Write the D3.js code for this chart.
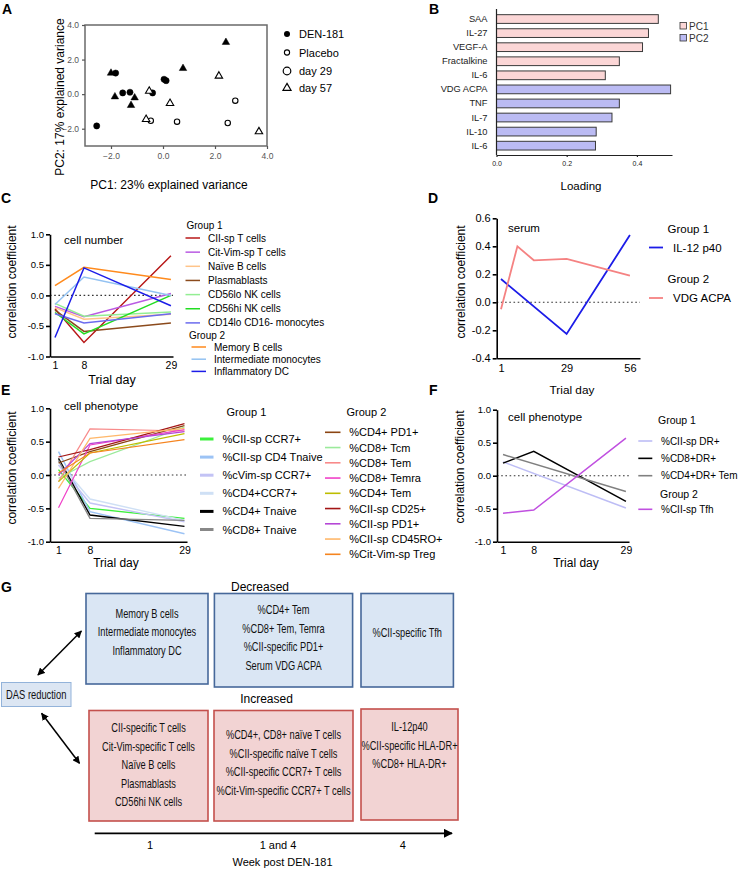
<!DOCTYPE html>
<html><head><meta charset="utf-8">
<script src="https://cdn.jsdelivr.net/npm/d3@7"></script>
<style>
body{margin:0;background:#fff}
svg{display:block;font-family:Arial,"Liberation Sans",sans-serif}
</style></head><body>
<svg id="fig" width="742" height="881"></svg>
<script>
// ---------------- DATA ----------------
// Panel A (PCA)
const pcaPC1 = [-2.55,-1.82,-1.55,-1.27,-0.40,0.04,0.12, -2.0,-1.85,-1.23,-1.09,0.77,2.42, -0.47,0.54,2.49,2.78, -0.65,-0.53,0.27,2.15,3.69];
const pcaPC2 = [-1.84,1.22,0.07,0.11,0.07,0.86,0.78, 1.22,-0.15,-0.65,-0.21,1.49,3.0, -1.54,-1.59,-1.67,-0.38, -1.46,0.18,-0.53,1.05,-2.17];
const pcaTreatment = ["DEN-181","DEN-181","DEN-181","DEN-181","DEN-181","DEN-181","DEN-181","DEN-181","DEN-181","DEN-181","DEN-181","DEN-181","DEN-181","Placebo","Placebo","Placebo","Placebo","Placebo","Placebo","Placebo","Placebo","Placebo"];
const pcaDay = [29,29,29,29,29,29,29,57,57,57,57,57,57,29,29,29,29,57,57,57,57,57];
const pcaXTicks = [-2,0,2,4];
const pcaYTicks = [-2,0,2,4];
const pcaLegend = ["DEN-181","Placebo","day 29","day 57"];

// Panel B (loadings)
const loadCategories = ["SAA","IL-27","VEGF-A","Fractalkine","IL-6","VDG ACPA","TNF","IL-7","IL-10","IL-6"];
const loadValues = [0.461,0.433,0.416,0.35,0.31,0.496,0.35,0.329,0.284,0.282];
const loadComponent = ["PC1","PC1","PC1","PC1","PC1","PC2","PC2","PC2","PC2","PC2"];
const loadTicks = [0,0.2,0.4];

// Panel C (cell number)
const cDays = [1,8,29];
const cNames = ["CII-sp T cells","Cit-Vim-sp T cells","Naïve B cells","Plasmablasts","CD56lo NK cells","CD56hi NK cells","CD14lo CD16- monocytes","Memory B cells","Intermediate monocytes","Inflammatory DC"];
const cGroup = [1,1,1,1,1,1,1,2,2,2];
const cValues = [[-0.22,-0.77,0.65],[-0.18,-0.35,0.03],[-0.2,-0.39,-0.31],[-0.24,-0.59,-0.45],[-0.13,-0.34,-0.27],[-0.28,-0.63,0.0],[-0.3,-0.45,-0.3],[0.16,0.46,0.26],[-0.15,0.30,0.0],[-0.69,0.45,-0.17]];
const cYTicks = [-1,-0.5,0,0.5,1];

// Panel D (serum)
const dNames = ["IL-12 p40","VDG ACPA"];
const dGroup = [1,2];
const dDays = [[1,29,56],[1,8,15,29,56]];
const dValues = [[0.166,-0.226,0.48],[-0.05,0.40,0.30,0.31,0.19]];
const dXTicks = [1,29,56];
const dYTicks = [-0.4,-0.2,0,0.2,0.4,0.6];

// Panel E (cell phenotype)
const eDays = [1,8,29];
const eNames = ["%CII-sp CCR7+","%CII-sp CD4 Tnaive","%cVim-sp CCR7+","%CD4+CCR7+","%CD4+ Tnaive","%CD8+ Tnaive",
  "%CD4+ PD1+","%CD8+ Tcm","%CD8+ Tem","%CD8+ Temra","%CD4+ Tem","%CII-sp CD25+","%CII-sp PD1+","%CII-sp CD45RO+","%Cit-Vim-sp Treg"];
const eGroup = [1,1,1,1,1,1,2,2,2,2,2,2,2,2,2];
const eValues = [[0.08,-0.50,-0.65],[0.35,-0.55,-0.88],[0.15,-0.42,-0.70],[0.20,-0.36,-0.68],[0.25,-0.60,-0.77],[0.22,-0.65,-0.68],
  [0.18,0.35,0.74],[-0.05,0.20,0.72],[-0.10,0.69,0.66],[-0.49,0.45,0.68],[-0.10,0.33,0.62],[0.27,0.38,0.77],[0.0,0.47,0.65],[-0.20,0.55,0.70],[0.03,0.33,0.53]];

// Panel F (cell phenotype)
const fNames = ["%CII-sp DR+","%CD8+DR+","%CD4+DR+ Tem","%CII-sp Tfh"];
const fGroup = [1,1,1,2];
const fDays = [[1,29],[1,8,29],[1,29],[1,8,29]];
const fValues = [[0.21,-0.49],[0.19,0.37,-0.39],[0.32,-0.24],[-0.57,-0.52,0.57]];
const trialTicks = [1,8,29];

// Panel G (summary)
const gDecreased = [["Memory B cells","Intermediate monocytes","Inflammatory DC"],["%CD4+ Tem","%CD8+ Tem, Temra","%CII-specific PD1+","Serum VDG ACPA"],["%CII-specific Tfh"]];
const gIncreased = [["CII-specific T cells","Cit-Vim-specific T cells","Naïve B cells","Plasmablasts","CD56hi NK cells"],["%CD4+, CD8+ naïve T cells","%CII-specific naïve T cells","%CII-specific CCR7+ T cells","%Cit-Vim-specific CCR7+ T cells"],["IL-12p40","%CII-specific HLA-DR+","%CD8+ HLA-DR+"]];
const gWeeks = ["1","1 and 4","4"];

// ---------------- STYLES ----------------
const cColors = ["#B81818","#B95BE3","#FFC48A","#8B4A1C","#93EE93","#22DD22","#6B6BEE","#FF8A1C","#93C2F2","#1C1CE8"];
const dColors = ["#1C1CE8","#F58282"];
const eColors = ["#3CF03C","#9CC3F5","#C3C3F5","#CFE0F5","#000000","#888888","#8B4513","#9BEA9B","#F88A8A","#F040C8","#BDBD00","#A31515","#B547D6","#FFB86B","#F5841F"];
const fColors = ["#BDBDF5","#000000","#808080","#C050E0"];
const FONT = "Arial, 'Liberation Sans', sans-serif";

const svg = d3.select("#fig");
svg.append("rect").attr("width",742).attr("height",881).attr("fill","#fff");

function txt(x,y,s,fs,opts={}){
  const t = svg.append("text").attr("x",x).attr("y",y).text(s)
    .attr("font-size",fs).attr("font-family",FONT)
    .attr("dominant-baseline","central").attr("fill",opts.fill||"#000")
    .attr("text-anchor",opts.anchor||"start");
  if(opts.bold) t.attr("font-weight","bold");
  return t;
}
// condensed text (mimics a narrow face by horizontal scaling)
function ntxt(x,y,s,fs,sx){
  return svg.append("text").attr("transform",`translate(${x},${y}) scale(${sx},1)`).text(s)
    .attr("font-size",fs).attr("font-family",FONT).attr("text-anchor","middle")
    .attr("dominant-baseline","central").attr("fill","#111");
}
function vtxt(x,y,s,fs,fill){
  return svg.append("text").attr("transform",`translate(${x},${y}) rotate(-90)`).text(s)
    .attr("font-size",fs).attr("font-family",FONT).attr("text-anchor","middle")
    .attr("dominant-baseline","central").attr("fill",fill||"#000");
}
function styleAxis(g,fs,color,w){
  g.attr("font-family",FONT).attr("font-size",fs);
  g.selectAll("path.domain").attr("stroke",color).attr("stroke-width",w);
  g.selectAll(".tick line").attr("stroke",color).attr("stroke-width",w);
  g.selectAll(".tick text").attr("fill",color);
}
// panel labels
[["A",2,9],["B",429,9],["C",1,198],["D",428,198],["E",1,390],["F",429,390],["G",1,587]].forEach(p=>txt(p[1],p[2],p[0],14,{bold:true}));

// ---------------- PANEL A ----------------
{
  const x = d3.scaleLinear([-3,4],[85,267]);
  const y = d3.scaleLinear([-3,4],[146,25]);
  svg.append("rect").attr("x",85).attr("y",25).attr("width",182).attr("height",121)
    .attr("fill","none").attr("stroke","#6a6a6a").attr("stroke-width",1.5);
  const xa = svg.append("g").attr("transform","translate(0,146)")
    .call(d3.axisBottom(x).tickValues(pcaXTicks).tickSize(3).tickPadding(4).tickSizeOuter(0));
  styleAxis(xa,8.5,"#555",1.2);
  const ya = svg.append("g").attr("transform","translate(85,0)")
    .call(d3.axisLeft(y).tickValues(pcaYTicks).tickSize(3).tickPadding(3).tickSizeOuter(0));
  styleAxis(ya,8.5,"#555",1.2);
  xa.select("path.domain").remove(); ya.select("path.domain").remove();
  const tri = d3.symbol(d3.symbolTriangle,24);
  pcaPC1.forEach((v,i)=>{
    const filled = pcaTreatment[i]==="DEN-181";
    if(pcaDay[i]===29){
      svg.append("circle").attr("cx",x(v)).attr("cy",y(pcaPC2[i])).attr("r",filled?3.1:2.7)
        .attr("fill",filled?"#000":"#fff").attr("stroke","#000").attr("stroke-width",filled?0.5:1.1);
    } else {
      svg.append("path").attr("d",tri()).attr("transform",`translate(${x(v)},${y(pcaPC2[i])})`)
        .attr("fill",filled?"#000":"#fff").attr("stroke","#000").attr("stroke-width",filled?0.5:1.1);
    }
  });
  vtxt(60,97,"PC2: 17% explained variance",12);
  txt(169,185,"PC1: 23% explained variance",12,{anchor:"middle"});
  // legend
  const ly = [34,52.5,71,88];
  pcaLegend.forEach((s,i)=>{
    const cx=287, cy=ly[i];
    if(i===0) svg.append("circle").attr("cx",cx).attr("cy",cy).attr("r",3).attr("fill","#000");
    else if(i===1) svg.append("circle").attr("cx",cx).attr("cy",cy).attr("r",2.6).attr("fill","#fff").attr("stroke","#000").attr("stroke-width",1.1);
    else if(i===2) svg.append("circle").attr("cx",cx).attr("cy",cy).attr("r",3.8).attr("fill","#fff").attr("stroke","#000").attr("stroke-width",1.2);
    else svg.append("path").attr("d",d3.symbol(d3.symbolTriangle,28)()).attr("transform",`translate(${cx},${cy})`).attr("fill","#fff").attr("stroke","#000").attr("stroke-width",1.2);
    txt(299,cy,s,11);
  });
}

// ---------------- PANEL B ----------------
{
  const x = d3.scaleLinear([0,0.5],[496.5,672]);
  const y = d3.scaleBand().domain(d3.range(loadCategories.length)).range([12,152.7]).paddingInner(0.38).paddingOuter(0.19);
  const fillC = {PC1:"#FBD6D6",PC2:"#BBBBF3"};
  loadValues.forEach((v,i)=>{
    svg.append("rect").attr("x",x(0)).attr("y",y(i)).attr("width",x(v)-x(0)).attr("height",y.bandwidth())
      .attr("fill",fillC[loadComponent[i]]).attr("stroke","#3a3a3a").attr("stroke-width",1);
  });
  const ya = svg.append("g").attr("transform",`translate(${x(0)},0)`)
    .call(d3.axisLeft(y).tickFormat(i=>loadCategories[i]).tickSize(0).tickPadding(9));
  styleAxis(ya,9.3,"#222",1.2);
  ya.select("path.domain").remove();
  svg.append("line").attr("x1",x(0)).attr("x2",x(0)).attr("y1",9).attr("y2",155).attr("stroke","#222").attr("stroke-width",1.2);
  const xa = svg.append("g").attr("transform","translate(0,155)")
    .call(d3.axisBottom(x).tickValues(loadTicks).tickFormat(d3.format(".1f")).tickSize(2).tickPadding(4).tickSizeOuter(0));
  styleAxis(xa,7,"#222",1.2);
  txt(581,186,"Loading",11.5,{anchor:"middle"});
  ["PC1","PC2"].forEach((s,i)=>{
    svg.append("rect").attr("x",680).attr("y",22.5+i*12).attr("width",6.5).attr("height",6.5)
      .attr("fill",fillC[s]).attr("stroke","#333").attr("stroke-width",0.8);
    txt(689,26+i*12,s,10,{fill:"#333"});
  });
}

// ---------------- line panel helper ----------------
function linePanel(o){
  const x=o.x, y=o.y;
  svg.append("line").attr("x1",x.range()[0]).attr("x2",x.range()[1]).attr("y1",y(0)).attr("y2",y(0))
    .attr("stroke","#333").attr("stroke-width",1.1).attr("stroke-dasharray","1.6,2.6");
  const lg = d3.line().x(d=>x(d[0])).y(d=>y(d[1]));
  o.series.forEach(s=>{
    svg.append("path").attr("d",lg(d3.zip(s.days,s.vals))).attr("fill","none")
      .attr("stroke",s.color).attr("stroke-width",s.width).attr("stroke-linejoin","miter");
  });
  const ya = svg.append("g").attr("transform",`translate(${x.range()[0]},0)`)
    .call(d3.axisLeft(y).tickValues(o.yTicks).tickFormat(d=>d.toFixed(1)).tickSize(4).tickPadding(2).tickSizeOuter(0));
  styleAxis(ya,o.yFs,"#000",1.6);
  const xa = svg.append("g").attr("transform",`translate(0,${y.range()[0]})`)
    .call(d3.axisBottom(x).tickValues(o.xTicks).tickFormat(d=>d).tickSize(0).tickPadding(o.xPad).tickSizeOuter(0));
  styleAxis(xa,o.xFs,"#000",1.6);
}
function legendLine(x1,x2,y,color,w){
  svg.append("line").attr("x1",x1).attr("x2",x2).attr("y1",y).attr("y2",y).attr("stroke",color).attr("stroke-width",w);
}

// ---------------- PANEL C ----------------
{
  const x = d3.scaleLinear([-0.2,29.5],[50,173]);
  const y = d3.scaleLinear([-1,1],[356.5,234.3]);
  linePanel({x,y,xTicks:trialTicks,yTicks:cYTicks,yFs:9.5,xFs:10.5,xPad:5,
    series:cValues.map((v,i)=>({days:cDays,vals:v,color:cColors[i],width:1.5}))});
  vtxt(12,282,"correlation coefficient",12);
  txt(112,380,"Trial day",12.5,{anchor:"middle"});
  txt(64,240,"cell number",11.5);
  txt(186.5,225,"Group 1",10);
  let yy = 238;
  cNames.forEach((s,i)=>{
    if(cGroup[i]===2 && cGroup[i-1]===1){ txt(189,335,"Group 2",10); yy = 347; }
    const off = cGroup[i]===1?0:6;
    legendLine(185.5+off,200+off,yy,cColors[i],1.5);
    txt(208+off,yy,s,10);
    yy += cGroup[i]===1?14.15:12.2;
  });
}

// ---------------- PANEL D ----------------
{
  const x = d3.scaleLinear([-0.83,60.3],[496.7,640]);
  const y = d3.scaleLinear([-0.4,0.6],[358.3,218.3]);
  linePanel({x,y,xTicks:dXTicks,yTicks:dYTicks,yFs:11,xFs:11,xPad:6,
    series:dValues.map((v,i)=>({days:dDays[i],vals:v,color:dColors[i],width:1.8}))});
  vtxt(461,282,"correlation coefficient",12);
  txt(572,390,"Trial day",11.8,{anchor:"middle"});
  txt(508,228,"serum",11.5);
  dNames.forEach((s,i)=>{
    const gy = 228.5 + i*50.5;
    txt(667.5,gy,"Group "+dGroup[i],11.5);
    legendLine(649,663,gy+19,dColors[i],1.8);
    txt(673,gy+19,s,11.5);
  });
}

// ---------------- PANEL E ----------------
{
  const x = d3.scaleLinear([-0.89,29.56],[50,187]);
  const y = d3.scaleLinear([-1,1],[541.7,408.3]);
  linePanel({x,y,xTicks:trialTicks,yTicks:cYTicks,yFs:9.5,xFs:10.5,xPad:5,
    series:eValues.map((v,i)=>({days:eDays,vals:v,color:eColors[i],width:eGroup[i]===1?1.4:1.2}))});
  vtxt(12,468,"correlation coefficient",12);
  txt(116,563,"Trial day",12,{anchor:"middle"});
  txt(64,406,"cell phenotype",11.5);
  txt(226.5,411.7,"Group 1",11);
  txt(346.5,411.7,"Group 2",11);
  let k1=0,k2=0;
  eNames.forEach((s,i)=>{
    if(eGroup[i]===1){
      const yy = 439 + k1*18.1; k1++;
      legendLine(200,213.5,yy,eColors[i],3);
      txt(222.5,yy,s,11);
    } else {
      const yy = 432.3 + k2*15.25; k2++;
      legendLine(325,340.5,yy,eColors[i],1.6);
      txt(349.3,yy,s,11);
    }
  });
}

// ---------------- PANEL F ----------------
{
  const x = d3.scaleLinear([-0.37,29.7],[497,629]);
  const y = d3.scaleLinear([-1,1],[541.7,409.7]);
  linePanel({x,y,xTicks:trialTicks,yTicks:cYTicks,yFs:9.5,xFs:10.5,xPad:5,
    series:fValues.map((v,i)=>({days:fDays[i],vals:v,color:fColors[i],width:1.5}))});
  vtxt(460,467,"correlation coefficient",12);
  txt(576,563,"Trial day",12,{anchor:"middle"});
  txt(508,417,"cell phenotype",11.5);
  txt(658,420,"Group 1",10.5);
  let yy = 441;
  fNames.forEach((s,i)=>{
    if(fGroup[i]===2 && fGroup[i-1]===1){ txt(660,494.3,"Group 2",10.5); yy = 509.3; }
    legendLine(638.3,652.3,yy,fColors[i],1.6);
    txt(661,yy,s,10);
    yy += 17.35;
  });
}

// ---------------- PANEL G ----------------
{
  const defs = svg.append("defs");
  defs.append("marker").attr("id","ah").attr("viewBox","0 0 10 10").attr("refX",9).attr("refY",5)
    .attr("markerWidth",5).attr("markerHeight",5).attr("orient","auto-start-reverse")
    .append("path").attr("d","M0,0L10,5L0,10z").attr("fill","#000");
  const topBoxes = [[86,208],[214.4,352.6],[361,453.4]];
  const botBoxes = [[89,208],[214,353],[361,458]];
  const topFirst = [613.3,610,632.7];
  const botFirst = [727.7,735,726.7];
  const lh = 18.5, SX = 0.77;
  txt(260,587,"Decreased",12,{anchor:"middle"});
  gDecreased.forEach((lines,i)=>{
    const [a,b] = topBoxes[i];
    svg.append("rect").attr("x",a).attr("y",593.5).attr("width",b-a).attr("height",i===0?90.5:93.5)
      .attr("fill","#DAE6F4").attr("stroke","#46689A").attr("stroke-width",1.6);
    lines.forEach((s,j)=>ntxt((a+b)/2,topFirst[i]+j*lh,s,12,SX));
  });
  txt(266.5,699,"Increased",12,{anchor:"middle"});
  gIncreased.forEach((lines,i)=>{
    const [a,b] = botBoxes[i];
    svg.append("rect").attr("x",a).attr("y",i===2?709:710.5).attr("width",b-a).attr("height",i===2?111:110.5)
      .attr("fill","#F2D3D3").attr("stroke","#C4504D").attr("stroke-width",1.6);
    lines.forEach((s,j)=>ntxt((a+b)/2,botFirst[i]+j*lh,s,12,SX));
  });
  // DAS reduction box
  svg.append("rect").attr("x",1.5).attr("y",682.5).attr("width",69.5).attr("height",24)
    .attr("fill","#DCE6F3").attr("stroke","#93B3DA").attr("stroke-width",1);
  ntxt(36.2,694.5,"DAS reduction",12,0.78);
  // double arrows
  [[37.9,675,81.4,631],[41.6,713.3,79.5,763.3]].forEach(a=>{
    svg.append("line").attr("x1",a[0]).attr("y1",a[1]).attr("x2",a[2]).attr("y2",a[3])
      .attr("stroke","#000").attr("stroke-width",1.5)
      .attr("marker-start","url(#ah)").attr("marker-end","url(#ah)");
  });
  // time axis
  svg.append("line").attr("x1",94.7).attr("x2",452).attr("y1",833.3).attr("y2",833.3)
    .attr("stroke","#000").attr("stroke-width",1.8).attr("marker-end","url(#ah)");
  const wx = [150,278,402.7];
  gWeeks.forEach((s,i)=>txt(wx[i],844.5,s,11,{anchor:"middle"}));
  txt(282.5,862,"Week post DEN-181",11,{anchor:"middle"});
}
</script></body></html>
